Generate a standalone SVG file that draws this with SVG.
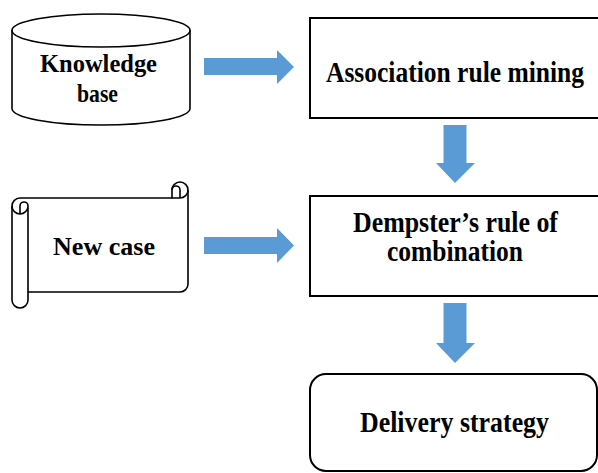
<svg xmlns="http://www.w3.org/2000/svg" width="598" height="473" viewBox="0 0 598 473">
<defs>
<style>
.box{fill:#fff;stroke:#000;stroke-width:2}
.shape{fill:#fff;stroke:#000;stroke-width:1.6;stroke-linejoin:round}
.line{fill:none;stroke:#000;stroke-width:1.6;stroke-linejoin:round}
.tr{font-size:29.5px}
.tl{font-size:25.5px}
.arrow{fill:#5B9BD5}
</style>
</defs>
<rect width="598" height="473" fill="#fff"/>
<g font-family="Liberation Serif, Times New Roman, serif" font-weight="bold" text-anchor="middle" fill="#000">
<g id="knowledge-base">
<path class="shape" d="M12,30.5 L12,108.5 A89,16.5 0 0 0 190,108.5 L190,30.5 Z"/>
<ellipse class="shape" cx="101" cy="30.5" rx="89" ry="16.5"/>
<text class="tl" x="98.5" y="72" textLength="117" lengthAdjust="spacingAndGlyphs">Knowledge</text>
<text class="tl" x="97.5" y="102" textLength="41" lengthAdjust="spacingAndGlyphs">base</text>
</g>
<g id="new-case">
<path class="shape" d="M12,206 A8,8 0 0 1 20,198 L172,198 L172,190 A8,8 0 0 1 188,190 L188,284 A8,8 0 0 1 180,292 L28,292 L28,300 A8,8 0 0 1 12,300 Z"/>
<path class="line" d="M172,198 L180,198 A8,8 0 0 0 188,190 M180,198 L180,190 A4,4 0 0 0 172,190 M20,214 L20,206 A4,4 0 0 1 28,206 A8,8 0 0 1 12,206 M20,214 A8,8 0 0 0 28,206 M28,206 L28,292"/>
<text class="tl" x="104" y="255" textLength="102" lengthAdjust="spacingAndGlyphs">New case</text>
</g>
<g id="association-rule-mining">
<rect class="box" x="310" y="18" width="289" height="100"/>
<text class="tr" x="455" y="82" textLength="258" lengthAdjust="spacingAndGlyphs">Association rule mining</text>
</g>
<g id="dempster">
<rect class="box" x="310" y="196" width="289" height="100"/>
<text class="tr" x="455.5" y="232" textLength="205" lengthAdjust="spacingAndGlyphs">Dempster’s rule of</text>
<text class="tr" x="455" y="261" textLength="136" lengthAdjust="spacingAndGlyphs">combination</text>
</g>
<g id="delivery-strategy">
<rect class="box" x="310" y="374" width="287" height="97" rx="16" ry="16"/>
<text class="tr" x="454.5" y="432" textLength="189" lengthAdjust="spacingAndGlyphs">Delivery strategy</text>
</g>
</g>
<g id="connectors">
<polygon class="arrow" points="204,58 277,58 277,50 294,67 277,84 277,75 204,75"/>
<polygon class="arrow" points="204,237 277,237 277,228 294,245.5 277,263 277,254 204,254"/>
<polygon class="arrow" points="443.5,125 466.5,125 466.5,163 475,163 455,183 436,163 443.5,163"/>
<polygon class="arrow" points="443.5,303 466.5,303 466.5,343 475,343 455,363 436,343 443.5,343"/>
</g>
</svg>
